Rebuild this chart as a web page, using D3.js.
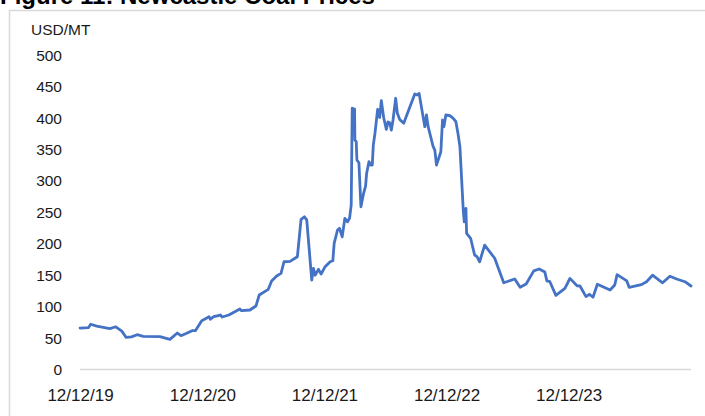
<!DOCTYPE html>
<html>
<head>
<meta charset="utf-8">
<script src="https://cdn.jsdelivr.net/npm/d3@7"></script>
<style>
  html, body { margin: 0; padding: 0; background: #fff; }
  svg { display: block; font-family: "Liberation Sans", Arial, sans-serif; }
</style>
</head>
<body>
<svg id="chart" width="705" height="416"></svg>
<script>
const title = "Figure 11: Newcastle Coal Prices";
const unitLabel = "USD/MT";
const dates = [
  "2019-12-12","2020-01-06","2020-01-13","2020-01-31","2020-03-10","2020-03-28","2020-04-15","2020-04-28",
  "2020-05-14","2020-05-31","2020-06-18","2020-08-07","2020-09-06","2020-09-28","2020-10-09","2020-10-26",
  "2020-11-11","2020-11-21","2020-12-10","2021-01-01","2021-01-05","2021-01-15","2021-02-04","2021-02-09",
  "2021-03-01","2021-03-19","2021-04-03","2021-04-08","2021-05-03","2021-05-21","2021-05-31","2021-06-27",
  "2021-07-07","2021-07-22","2021-08-04","2021-08-13","2021-08-31","2021-09-22","2021-10-03","2021-10-13",
  "2021-10-20","2021-11-04","2021-11-09","2021-11-14","2021-11-24","2021-12-02","2021-12-14","2021-12-29",
  "2022-01-06","2022-01-10","2022-01-20","2022-01-26","2022-02-03","2022-02-11","2022-02-19","2022-02-25",
  "2022-03-02","2022-03-05","2022-03-12","2022-03-13","2022-03-17","2022-03-19","2022-03-25","2022-03-31",
  "2022-04-08","2022-04-14","2022-04-17","2022-04-24","2022-04-29","2022-05-04","2022-05-07","2022-05-12",
  "2022-05-20","2022-05-26","2022-05-31","2022-06-07","2022-06-15","2022-06-20","2022-06-25","2022-06-30",
  "2022-07-05","2022-07-13","2022-07-18","2022-07-25","2022-08-06","2022-09-08","2022-09-15","2022-09-21",
  "2022-10-08","2022-10-13","2022-10-18","2022-11-02","2022-11-07","2022-11-12","2022-11-25","2022-11-30",
  "2022-12-04","2022-12-10","2022-12-22","2023-01-01","2023-01-09","2023-01-16","2023-01-21","2023-01-31",
  "2023-02-03","2023-02-08","2023-02-10","2023-02-22","2023-03-06","2023-03-13","2023-03-21","2023-04-05",
  "2023-05-05","2023-06-01","2023-07-04","2023-07-20","2023-08-07","2023-08-30","2023-09-15","2023-10-02",
  "2023-10-08","2023-10-17","2023-11-04","2023-12-01","2023-12-16","2024-01-07","2024-01-15","2024-02-02",
  "2024-02-12","2024-02-23","2024-03-07","2024-04-14","2024-04-28","2024-05-05","2024-06-03","2024-06-10",
  "2024-07-17","2024-08-01","2024-08-19","2024-09-18","2024-10-10","2024-10-30","2024-11-24","2024-12-12"
];
const prices = [
  66,66.5,72,69,65,68,61,51,
  52,55.4,52.8,52.2,48,58,53.8,57.6,
  61.8,61.8,77.7,84,80,84,86.7,83.5,
  86.7,92,96.3,93.6,94.7,101,118.6,127.6,
  140.8,148.8,153,171.5,172,179.5,239,243,
  238,142.4,161,150,159.4,152,163.6,171.5,
  173,200.8,222,224.7,211,240.6,235,240.6,
  262,415.7,414.5,365,362.5,333.4,329,259,
  280.4,292,312,330.7,325.4,325.4,357,376,
  414,401,427.8,401,382,394,392.7,381,
  397,431.6,407.7,398,391.8,438.4,436.8,439.4,
  386.4,405,386.4,354.5,349,325.4,346.6,397,
  386.4,405,404,399.7,394.3,373,354.6,253.8,
  235,256.5,216.7,208.8,182.2,179.5,171.5,198,
  177,138,144,131,136,157,160,155,
  141,139.7,118,129,145,133,132.9,116,
  119.7,115,135.6,126.5,134.5,151,141,130.8,
  135,139.7,150,138,148.5,144,139.7,132.9
];
const yTicks = [0,50,100,150,200,250,300,350,400,450,500];
const xTickDates = ["2019-12-12","2020-12-12","2021-12-12","2022-12-12","2023-12-12"];

const parse = d3.timeParse("%Y-%m-%d");
const data = dates.map((d, i) => ({ date: parse(d), value: prices[i] }));

const svg = d3.select("#chart");

// outer frame
svg.append("rect")
  .attr("x", 9.5).attr("y", 10.5)
  .attr("width", 720).attr("height", 430)
  .attr("fill", "none").attr("stroke", "#d9d9d9").attr("stroke-width", 1.5);

// title (clipped at top, as in the source figure)
svg.append("text")
  .attr("x", 0).attr("y", 4)
  .attr("font-size", 24).attr("font-weight", "bold")
  .attr("fill", "#000")
  .text(title);

const x = d3.scaleTime()
  .domain([parse(dates[0]), parse(dates[dates.length - 1])])
  .range([80, 691]);
const y = d3.scaleLinear().domain([0, 500]).range([369.5, 55.3]);

// y axis labels
const yAxis = d3.axisLeft(y).tickValues(yTicks).tickSize(0).tickPadding(0);
const gy = svg.append("g").attr("transform", "translate(62,0)").call(yAxis);
gy.select(".domain").remove();
gy.selectAll("text")
  .attr("font-size", 15.5).attr("fill", "#1a1a1a")
  .attr("font-family", "'Liberation Sans', Arial, sans-serif");

// baseline
svg.append("line")
  .attr("x1", x.range()[0]).attr("x2", x.range()[1])
  .attr("y1", y(0)).attr("y2", y(0))
  .attr("stroke", "#d9d9d9").attr("stroke-width", 1.5);

// x axis labels
const xAxis = d3.axisBottom(x)
  .tickValues(xTickDates.map(parse))
  .tickFormat(d3.timeFormat("%m/%d/%y"))
  .tickSize(0).tickPadding(0);
const gx = svg.append("g").attr("transform", "translate(0,389)").call(xAxis);
gx.select(".domain").remove();
gx.selectAll("text")
  .attr("font-size", 17).attr("fill", "#1a1a1a")
  .attr("font-family", "'Liberation Sans', Arial, sans-serif");

// unit label
svg.append("text")
  .attr("x", 31).attr("y", 34.5)
  .attr("font-size", 15.5).attr("fill", "#1a1a1a")
  .text(unitLabel);

// line
const line = d3.line().x(d => x(d.date)).y(d => y(d.value));
svg.append("path")
  .datum(data)
  .attr("d", line)
  .attr("fill", "none")
  .attr("stroke", "#4472C4")
  .attr("stroke-width", 2.8)
  .attr("stroke-linejoin", "round")
  .attr("stroke-linecap", "round");
</script>
</body>
</html>
